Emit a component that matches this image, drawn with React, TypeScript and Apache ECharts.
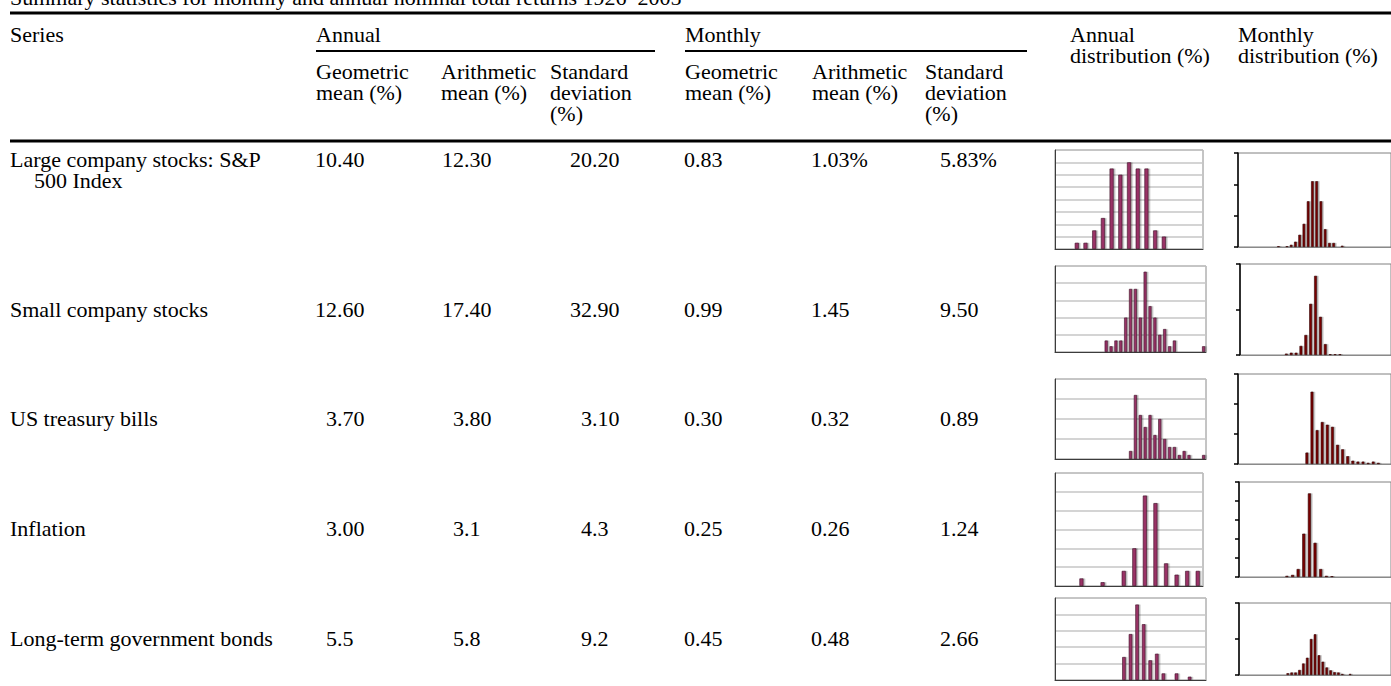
import React, { useEffect, useRef } from "react";
import * as echarts from "echarts";

// ---------- Data ----------
const TITLE = "Summary statistics for monthly and annual nominal total returns 1926–2005";
const seriesLabels: string[][] = [
  ["Large company stocks: S&P", "500 Index"],
  ["Small company stocks"],
  ["US treasury bills"],
  ["Inflation"],
  ["Long-term government bonds"],
];
const groupHeaders = ["Annual", "Monthly"];
const subHeaders = ["Geometric\nmean (%)", "Arithmetic\nmean (%)", "Standard\ndeviation\n(%)"];
const distHeaders = ["Annual\ndistribution (%)", "Monthly\ndistribution (%)"];
const annualGeoMean = ["10.40", "12.60", "3.70", "3.00", "5.5"];
const annualArithMean = ["12.30", "17.40", "3.80", "3.1", "5.8"];
const annualStdDev = ["20.20", "32.90", "3.10", "4.3", "9.2"];
const monthlyGeoMean = ["0.83", "0.99", "0.30", "0.25", "0.45"];
const monthlyArithMean = ["1.03%", "1.45", "0.32", "0.26", "0.48"];
const monthlyStdDev = ["5.83%", "9.50", "0.89", "1.24", "2.66"];

// annual return histograms (number of years per bin)
const annualDistLarge = [0, 0, 1, 1, 3, 5, 13, 12, 14, 13, 13, 3, 2, 0, 0, 0, 0];
const annualDistSmall = [0, 0, 0, 0, 0, 0, 0, 0, 0, 0, 2, 1, 2, 2, 6, 11, 11, 6, 14, 8, 6, 3, 4, 1, 2, 0, 0, 0, 0, 0, 1];
const annualDistTBills = [0, 0, 0, 0, 0, 0, 0, 0, 0, 0, 0, 0, 0, 0, 0, 2, 16, 11, 8, 11, 6, 10, 5, 3, 3, 1, 2, 1, 0, 0, 1];
const annualDistInflation = [0, 0, 2, 0, 1, 0, 4, 10, 24, 22, 6, 3, 4, 4];
const annualDistBonds = [0, 0, 0, 0, 0, 0, 0, 0, 0, 0, 7, 14, 23, 17, 6, 8, 2, 0, 2, 0, 1, 0, 0];

// monthly return histograms (number of months per bin)
const monthlyDistLarge = [0, 0, 0, 0, 0, 0, 0, 0, 0, 3, 0, 3, 7, 17, 39, 74, 146, 210, 210, 146, 57, 13, 13, 0, 4, 0, 0, 0, 0, 0, 0, 0, 0, 0, 0, 0];
const monthlyDistSmall = [0, 0, 0, 0, 0, 0, 0, 0, 0, 6, 10, 10, 40, 88, 225, 348, 168, 48, 4, 4, 4, 0, 0, 0, 0, 0, 0, 0, 0, 0, 0];
const monthlyDistTBills = [0, 0, 0, 0, 0, 0, 0, 0, 0, 0, 0, 0, 0, 38, 241, 113, 140, 131, 124, 64, 49, 26, 11, 8, 8, 4, 8, 4, 0, 0];
const monthlyDistInflation = [0, 0, 0, 0, 0, 0, 0, 0, 6, 11, 42, 228, 440, 180, 42, 6, 5, 0, 0, 0, 0, 0, 0, 0, 0, 0, 0];
const monthlyDistBonds = [0, 0, 0, 0, 0, 0, 0, 0, 0, 0, 0, 0, 10, 14, 14, 28, 64, 96, 200, 226, 110, 74, 42, 26, 16, 14, 6, 0, 6, 0, 0, 0, 0, 0, 0, 0, 0, 0, 0];

// axis scales [max, interval]
const annualScale: number[][] = [[16, 2], [15, 3], [20, 5], [30, 5], [25, 5]];
const monthlyScale: number[][] = [[300, 100], [400, 200], [300, 100], [500, 100], [400, 200]];

// ---------- Layout ----------
const FONT = '"Liberation Serif", "Times New Roman", serif';
const FS = 22;
const LH = 21;
const annualBoxes = [
  { left: 1055, top: 150, width: 148, height: 99, barWidth: 4 },
  { left: 1055, top: 266, width: 151, height: 86, barWidth: 3 },
  { left: 1055, top: 379, width: 151, height: 80, barWidth: 3 },
  { left: 1055, top: 473, width: 148, height: 113, barWidth: 4 },
  { left: 1055, top: 598, width: 151, height: 82, barWidth: 3.5 },
];
const monthlyBoxes = [
  { left: 1238, top: 153, width: 169, height: 94, barWidth: 2.6 },
  { left: 1240, top: 264, width: 166.5, height: 91, barWidth: 2.8 },
  { left: 1238, top: 374, width: 167, height: 90, barWidth: 2.8 },
  { left: 1239, top: 482, width: 166.6, height: 95, barWidth: 3 },
  { left: 1239, top: 603, width: 166.5, height: 72, barWidth: 2.5 },
];
const rowY = [159, 309, 418, 528, 638];
const colUnitX = [326, 453, 581, 684, 811, 940];
const groupX = [316, 685];
const subHeaderX = [[316, 441, 550], [685, 812, 925]];
const distHeaderX = [1070, 1238];
const DIGIT = FS * 0.5;

export default function App() {
  const ref = useRef<HTMLDivElement>(null);
  useEffect(() => {
    const chart = echarts.init(ref.current!, null, { renderer: "svg" });
    const grids: any[] = [];
    const xAxes: any[] = [];
    const yAxes: any[] = [];
    const series: any[] = [];

    const addHist = (values: number[], scale: number[], box: any, annual: boolean) => {
      const i = grids.length;
      grids.push({
        left: box.left, top: box.top, width: box.width, height: box.height,
        show: true, borderColor: annual ? "#8a8a8a" : "#808080", borderWidth: 1,
        backgroundColor: "#ffffff",
      });
      xAxes.push({
        type: "category", gridIndex: i, data: values.map((_, k) => String(k)), boundaryGap: true,
        axisLine: { show: true, lineStyle: { color: annual ? "#3c3c3c" : "#8a8a8a", width: 1 } },
        axisTick: { show: false }, axisLabel: { show: false }, splitLine: { show: false },
      });
      yAxes.push({
        type: "value", gridIndex: i, min: 0, max: scale[0], interval: scale[1],
        axisLine: { show: true, lineStyle: { color: annual ? "#3c3c3c" : "#000000", width: annual ? 1 : 1.5 } },
        axisTick: { show: !annual, inside: false, length: 4, lineStyle: { color: "#000", width: 1.5 } },
        axisLabel: { show: false },
        splitLine: { show: annual, lineStyle: { color: "#c6c6c6", width: 1.5 } },
      });
      series.push({
        type: "bar", xAxisIndex: i, yAxisIndex: i, data: values, barWidth: box.barWidth, silent: true,
        itemStyle: {
          color: annual ? "#993366" : "#7a0000",
          borderColor: annual ? "#3d0f26" : "#330000",
          borderWidth: 0.6,
          shadowColor: "rgba(0,0,0,0.3)", shadowOffsetX: 1.5, shadowOffsetY: 0, shadowBlur: 1,
        },
      });
    };

    const annualDists = [annualDistLarge, annualDistSmall, annualDistTBills, annualDistInflation, annualDistBonds];
    const monthlyDists = [monthlyDistLarge, monthlyDistSmall, monthlyDistTBills, monthlyDistInflation, monthlyDistBonds];
    annualDists.forEach((d, k) => addHist(d, annualScale[k], annualBoxes[k], true));
    monthlyDists.forEach((d, k) => addHist(d, monthlyScale[k], monthlyBoxes[k], false));

    // single-line text centred on y
    const txt = (text: string, x: number, y: number) => ({
      type: "text", x, y, silent: true,
      style: {
        text, fill: "#000", fontFamily: FONT, fontSize: FS,
        align: "left", verticalAlign: "middle", textAlign: "left", textVerticalAlign: "middle",
      },
    });
    // multi-line text whose first line is centred on yFirst
    const block = (text: string, x: number, yFirst: number) => ({
      type: "text", x, y: yFirst - LH / 2, silent: true,
      style: {
        text, fill: "#000", fontFamily: FONT, fontSize: FS, lineHeight: LH,
        align: "left", verticalAlign: "top", textAlign: "left", textVerticalAlign: "top",
      },
    });
    const rect = (x: number, y: number, w: number, h: number) => ({
      type: "rect", silent: true, shape: { x, y, width: w, height: h }, style: { fill: "#000" },
    });

    const g: any[] = [];
    g.push(txt(TITLE, 10, -2.5));
    g.push(rect(10, 11.5, 1400, 3));
    g.push(txt("Series", 10, 34));
    groupHeaders.forEach((h, k) => g.push(txt(h, groupX[k], 34)));
    g.push(rect(316, 50, 339, 2));
    g.push(rect(685, 50, 342, 2));
    distHeaders.forEach((h, k) => g.push(block(h, distHeaderX[k], 34)));
    subHeaderX.forEach((xs) => {
      subHeaders.forEach((h, k) => g.push(block(h, xs[k], 71.5)));
    });
    g.push(rect(10, 139.5, 1400, 3));

    seriesLabels.forEach((lines, r) => {
      lines.forEach((line, j) => g.push(txt(line, j === 0 ? 10 : 34, rowY[r] + j * 21.5)));
    });
    const cols = [annualGeoMean, annualArithMean, annualStdDev, monthlyGeoMean, monthlyArithMean, monthlyStdDev];
    cols.forEach((col, c) => {
      col.forEach((v, r) => {
        const intDigits = v.split(".")[0].length;
        g.push(txt(v, colUnitX[c] - (intDigits - 1) * DIGIT, rowY[r]));
      });
    });

    chart.setOption({
      animation: false,
      backgroundColor: "#ffffff",
      grid: grids,
      xAxis: xAxes,
      yAxis: yAxes,
      series,
      graphic: { elements: g },
    });
    return () => chart.dispose();
  }, []);
  return (
    <div
      ref={ref}
      style={{ position: "absolute", left: 0, top: 0, width: 1391, height: 686, overflow: "hidden" }}
    />
  );
}
